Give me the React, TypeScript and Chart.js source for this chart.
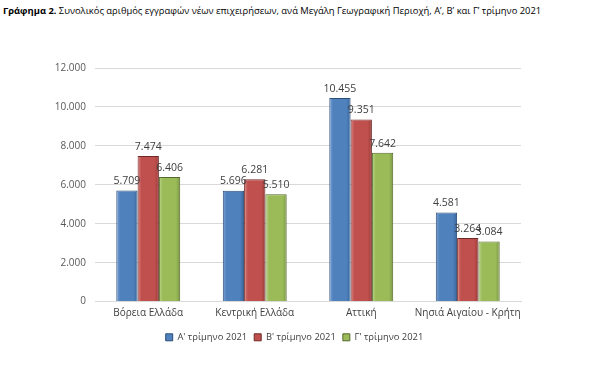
import React, { useEffect, useRef } from "react";
import { Chart, registerables } from "chart.js";

Chart.register(...registerables);

const categories = ["Βόρεια Ελλάδα", "Κεντρική Ελλάδα", "Αττική", "Νησιά Αιγαίου - Κρήτη"];
const seriesNames = ["Α' τρίμηνο 2021", "Β' τρίμηνο 2021", "Γ' τρίμηνο 2021"];
const q1 = [5709, 5696, 10455, 4581];
const q2 = [7474, 6281, 9351, 3264];
const q3 = [6406, 5510, 7642, 3084];
const colors = ["#4F81BD", "#C0504D", "#9BBB59"];
const lights = ["#7DA4D6", "#D98683", "#BCD68A"];
const darks = ["#3A659A", "#9A3B38", "#7A9843"];
const borders = ["#2C4D75", "#6E2826", "#56692D"];

const fmt = (v: number) => String(Math.round(v)).replace(/\B(?=(\d{3})+(?!\d))/g, ".");

const FONT = "'Open Sans', 'Noto Sans', sans-serif";

const labelPlugin = {
  id: "valueLabels",
  afterLayout(chart: any) {
    if (chart.legend) {
      chart.legend.left += 34;
      chart.legend.right += 34;
    }
  },
  afterDatasetsDraw(chart: any) {
    const ctx = chart.ctx;
    ctx.save();
    ctx.font = `10.5px ${FONT}`;
    ctx.fillStyle = "#404040";
    ctx.textAlign = "center";
    ctx.textBaseline = "bottom";
    chart.data.datasets.forEach((ds: any, i: number) => {
      const meta = chart.getDatasetMeta(i);
      meta.data.forEach((el: any, j: number) => {
        ctx.fillText(fmt(ds.data[j]), el.x, el.y - 4);
      });
    });
    ctx.restore();
  },
};

const barFill = (i: number) => (c: any) => {
  const meta = c.chart.getDatasetMeta(c.datasetIndex);
  const el = meta && meta.data ? meta.data[c.dataIndex] : null;
  if (!el || el.x == null || !isFinite(el.x) || !el.width) return colors[i];
  const x0 = el.x - el.width / 2;
  const g = c.chart.ctx.createLinearGradient(x0, 0, x0 + el.width, 0);
  g.addColorStop(0, lights[i]);
  g.addColorStop(0.18, colors[i]);
  g.addColorStop(0.8, colors[i]);
  g.addColorStop(1, darks[i]);
  return g;
};

export default function App() {
  const ref = useRef<HTMLCanvasElement>(null);
  useEffect(() => {
    if (!ref.current) return;
    const chart = new Chart(ref.current, {
      type: "bar",
      data: {
        labels: categories,
        datasets: [q1, q2, q3].map((d, i) => ({
          label: seriesNames[i],
          data: d,
          backgroundColor: barFill(i),
          borderColor: borders[i],
          borderWidth: 1,
          categoryPercentage: 0.6,
          barPercentage: 1.0,
        })),
      },
      options: {
        animation: false,
        responsive: false,
        maintainAspectRatio: false,
        layout: { padding: { top: 68, right: 79, bottom: 13, left: 0 } },
        plugins: {
          legend: {
            position: "bottom",
            labels: {
              boxWidth: 7,
              boxHeight: 7,
              padding: 7,
              color: "#404040",
              font: { family: FONT, size: 9.4 },
              generateLabels: (ch: any) =>
                ch.data.datasets.map((ds: any, i: number) => ({
                  text: ds.label,
                  fillStyle: colors[i],
                  strokeStyle: borders[i],
                  lineWidth: 1,
                  fontColor: "#404040",
                  datasetIndex: i,
                  hidden: false,
                })),
            },
          },
          tooltip: { enabled: false },
        },
        scales: {
          x: {
            grid: { display: false, drawTicks: false },
            border: { color: "#D9D9D9" },
            ticks: {
              color: "#404040",
              font: { family: FONT, size: 10 },
              padding: 6,
              maxRotation: 0,
              minRotation: 0,
              autoSkip: false,
            },
          },
          y: {
            min: 0,
            max: 12000,
            afterFit: (s: any) => { s.width = 95; },
            grid: { color: "#D9D9D9", drawTicks: false },
            border: { display: false },
            ticks: {
              stepSize: 2000,
              padding: 9,
              color: "#595959",
              font: { family: FONT, size: 10 },
              callback: (v: any) => fmt(Number(v)),
            },
          },
        },
      },
      plugins: [labelPlugin],
    });
    chart.update();
    return () => chart.destroy();
  }, []);
  return (
    <div style={{ position: "fixed", left: 0, top: 0, width: 600, height: 365, background: "#fff" }}>
      <div
        style={{
          position: "absolute",
          left: 3,
          top: 4,
          fontFamily: FONT,
          fontSize: 9.4,
          color: "#000",
          whiteSpace: "nowrap",
        }}
      >
        <b>Γράφημα 2.</b> Συνολικός αριθμός εγγραφών νέων επιχειρήσεων, ανά Μεγάλη Γεωγραφική Περιοχή, Α’, Β’ και Γ’ τρίμηνο 2021
      </div>
      <canvas ref={ref} width={600} height={365} style={{ position: "absolute", left: 0, top: 0 }} />
    </div>
  );
}
